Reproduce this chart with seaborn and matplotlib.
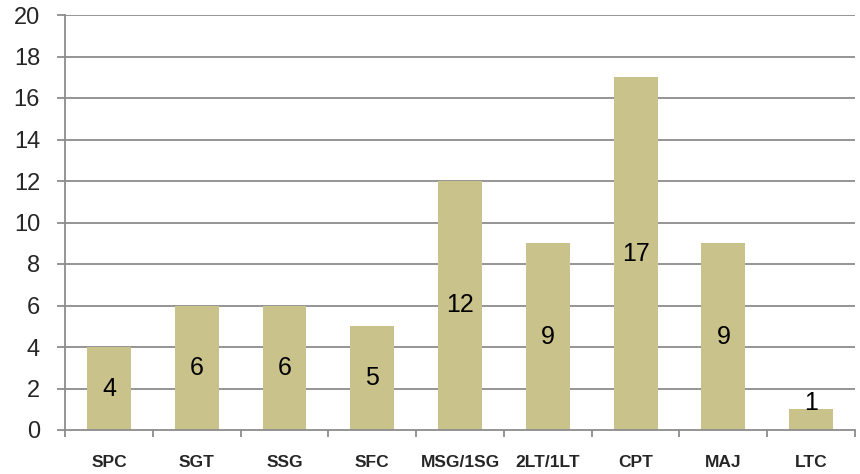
import matplotlib
matplotlib.use("Agg")
import matplotlib.pyplot as plt
import seaborn as sns
import pandas as pd
import numpy as np

categories = ["SPC", "SGT", "SSG", "SFC", "MSG/1SG", "2LT/1LT", "CPT", "MAJ", "LTC"]
values = [4, 6, 6, 5, 12, 9, 17, 9, 1]

sns.set_style("white")
plt.rcParams['font.family'] = ['Liberation Sans', 'DejaVu Sans']

df = pd.DataFrame({"cat": categories, "val": values})

fig = plt.figure(figsize=(8.6, 4.74), dpi=100)
ax = fig.add_axes([65/860, 1-430/474, 790/860, 415/474])

grid_c = "#8c8c8c"
ax.set_ylim(0, 20)
ax.set_yticks(range(0, 21, 2))
for y in range(2, 21, 2):
    ax.axhline(y, color=grid_c, lw=1.3, zorder=0)

sns.barplot(data=df, x="cat", y="val", color="#C9C28A", width=0.5,
            saturation=1, ax=ax, zorder=2, edgecolor="none")
ax.set_xlim(-0.5, len(categories) - 0.5)

for i, v in enumerate(values):
    yp = v / 2 if v >= 2 else v + 0.3
    ax.text(i, yp, str(v), ha="center", va="center", fontsize=18, color="black", zorder=3)

for s in ["top", "right"]:
    ax.spines[s].set_visible(False)
ax.spines["left"].set_color(grid_c)
ax.spines["bottom"].set_color(grid_c)
ax.spines["left"].set_linewidth(1.3)
ax.spines["bottom"].set_linewidth(1.3)

ax.tick_params(axis="y", which="major", length=6, width=1.3, color=grid_c,
               labelsize=17, pad=12, left=True)
ax.set_xticks(np.arange(-0.5, len(categories), 1.0), minor=True)
ax.tick_params(axis="x", which="minor", length=5, width=1.3, color=grid_c, bottom=True)
ax.tick_params(axis="x", which="major", length=0, pad=18, labelsize=12.5)
for lbl in ax.get_xticklabels():
    lbl.set_fontweight("bold")
ax.set_xlabel("")
ax.set_ylabel("")

fig.savefig("out.png", dpi=100)
